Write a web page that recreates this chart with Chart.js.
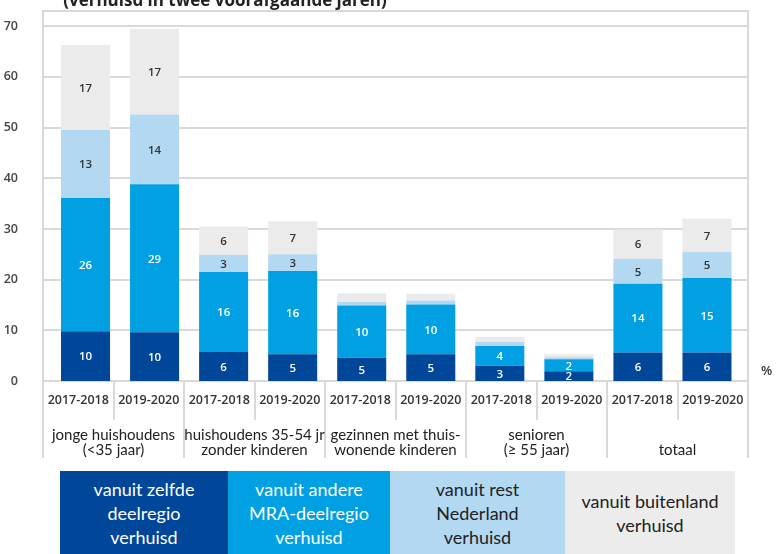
<!DOCTYPE html>
<html>
<head>
<meta charset="utf-8">
<script src="https://cdn.jsdelivr.net/npm/chart.js@4.4.1/dist/chart.umd.min.js"></script>
<style>
  html, body { margin: 0; padding: 0; background: #fff; }
  #wrap { position: relative; width: 777px; height: 554px; overflow: hidden; }
  #chart { position: absolute; left: 0; top: 0; }
  .title { position: absolute; left: 0; width: 450px; top: -10px; text-align: center;
           font: bold 17px/20px "Open Sans", sans-serif; color: #222; white-space: nowrap; }
  .pct { position: absolute; left: 761px; top: 361px; font: 600 13px "Open Sans", sans-serif; color: #333; }
  .legend { position: absolute; top: 471px; height: 83px; display: flex; align-items: center;
            justify-content: center; text-align: center; font: 18px/24px Lato, sans-serif; }
</style>
</head>
<body>
<div id="wrap">
  <canvas id="chart" width="777" height="465"></canvas>
  <div class="title">(verhuisd in twee voorafgaande jaren)</div>
  <div class="pct">%</div>
  <div class="legend" style="left:60px;width:168px;background:#004699;color:#fff">vanuit zelfde<br>deelregio<br>verhuisd</div>
  <div class="legend" style="left:228px;width:162px;background:#00a0e3;color:#fff">vanuit andere<br>MRA-deelregio<br>verhuisd</div>
  <div class="legend" style="left:390px;width:175px;background:#b3d8f2;color:#222">vanuit rest<br>Nederland<br>verhuisd</div>
  <div class="legend" style="left:565px;width:170px;background:#ececec;color:#222">vanuit buitenland<br>verhuisd</div>
</div>
<script>
// Periods per bar and the five groups they belong to
const periods = ['2017-2018', '2019-2020', '2017-2018', '2019-2020', '2017-2018',
                 '2019-2020', '2017-2018', '2019-2020', '2017-2018', '2019-2020'];
const groups = [
  ['jonge huishoudens', '(<35 jaar)'],
  ['huishoudens 35-54 jr', 'zonder kinderen'],
  ['gezinnen met thuis-', 'wonende kinderen'],
  ['senioren', '(≥ 55 jaar)'],
  ['', 'totaal']
];

// Share (%) moved, by origin
const zelfdeDeelregio = [9.8, 9.6, 5.7, 5.3, 4.6, 5.3, 3.0, 1.9, 5.6, 5.6];
const andereMRA       = [26.3, 29.2, 15.8, 16.4, 10.3, 9.8, 3.9, 2.4, 13.6, 14.7];
const restNederland   = [13.4, 13.8, 3.4, 3.3, 0.7, 0.8, 0.8, 0.4, 4.9, 5.2];
const buitenland      = [16.8, 16.9, 5.6, 6.5, 1.7, 1.3, 1.0, 0.6, 5.8, 6.5];

const yTicks = [0, 10, 20, 30, 40, 50, 60, 70];

const gridColor = '#d9d9d9';
const textDark = '#333333';

// Frame, gridlines and the category table below the bars
const framePlugin = {
  id: 'frame',
  beforeDatasetsDraw(chart) {
    const { ctx, chartArea, scales } = chart;
    const left = chartArea.left - 8, right = chartArea.right + 6.5;
    ctx.save();
    ctx.strokeStyle = gridColor;
    ctx.lineWidth = 2;
    yTicks.forEach(v => {
      const y = Math.round(scales.y.getPixelForValue(v));
      ctx.beginPath();
      ctx.moveTo(left, y);
      ctx.lineTo(right, y);
      ctx.stroke();
    });
    ctx.beginPath();
    ctx.moveTo(left, 458);
    ctx.lineTo(left, chartArea.top);
    ctx.lineTo(right, chartArea.top);
    ctx.lineTo(right, 458);
    ctx.stroke();
    ctx.restore();
  },
  afterDraw(chart) {
    const { ctx, chartArea } = chart;
    const left = chartArea.left - 8, right = chartArea.right + 6.5;
    const cell = (right - left) / periods.length;
    const top = chartArea.bottom + 1;
    ctx.save();
    ctx.strokeStyle = gridColor;
    ctx.lineWidth = 2;
    for (let i = 1; i < periods.length; i++) {
      const x = Math.round(left + cell * i);
      ctx.beginPath();
      ctx.moveTo(x, top);
      ctx.lineTo(x, i % 2 === 0 ? 458 : 420);
      ctx.stroke();
    }
    ctx.fillStyle = textDark;
    ctx.textAlign = 'center';
    ctx.textBaseline = 'middle';
    ctx.font = '600 12.5px "Open Sans"';
    periods.forEach((p, i) => ctx.fillText(p, left + cell * (i + 0.5), 400));
    ctx.fillStyle = '#222';
    ctx.font = '15px Lato';
    groups.forEach((g, i) => {
      const x = left + cell * (2 * i + 1);
      ctx.fillText(g[0], x, 435);
      ctx.fillText(g[1], x, 450);
    });
    ctx.restore();
  }
};

// Rounded values in the middle of each segment
const valueLabels = {
  id: 'valueLabels',
  afterDatasetsDraw(chart) {
    const { ctx } = chart;
    ctx.save();
    ctx.textAlign = 'center';
    ctx.textBaseline = 'middle';
    ctx.font = '600 11.5px "Open Sans"';
    chart.data.datasets.forEach((ds, di) => {
      const meta = chart.getDatasetMeta(di);
      meta.data.forEach((bar, i) => {
        const v = ds.data[i];
        if (v < 1.8) return;
        ctx.fillStyle = di < 2 ? '#ffffff' : textDark;
        ctx.fillText(Math.round(v), bar.x, (bar.y + bar.base) / 2 + 1);
      });
    });
    ctx.restore();
  }
};

new Chart(document.getElementById('chart'), {
  type: 'bar',
  data: {
    labels: periods,
    datasets: [
      { label: 'vanuit zelfde deelregio verhuisd', data: zelfdeDeelregio, backgroundColor: '#004699' },
      { label: 'vanuit andere MRA-deelregio verhuisd', data: andereMRA, backgroundColor: '#00a0e3' },
      { label: 'vanuit rest Nederland verhuisd', data: restNederland, backgroundColor: '#b3d8f2' },
      { label: 'vanuit buitenland verhuisd', data: buitenland, backgroundColor: '#ebebeb' }
    ]
  },
  options: {
    responsive: false,
    animation: false,
    layout: {
      padding: { top: 11, right: 35.5, bottom: 84, left: 0 }
    },
    plugins: {
      legend: { display: false },
      tooltip: { enabled: false }
    },
    datasets: {
      bar: { categoryPercentage: 1, barPercentage: 0.71 }
    },
    scales: {
      x: {
        stacked: true,
        display: false
      },
      y: {
        stacked: true,
        min: 0,
        max: 73,
        afterFit(scale) {
          scale.width = 51;
          scale.paddingTop = 0;
          scale.paddingBottom = 0;
        },
        afterBuildTicks(scale) {
          scale.ticks = yTicks.map(v => ({ value: v }));
        },
        grid: { display: false },
        border: { display: false },
        ticks: {
          padding: 25,
          color: '#444',
          font: { family: 'Open Sans', size: 12.5, weight: '600' }
        }
      }
    }
  },
  plugins: [framePlugin, valueLabels]
});
</script>
</body>
</html>
